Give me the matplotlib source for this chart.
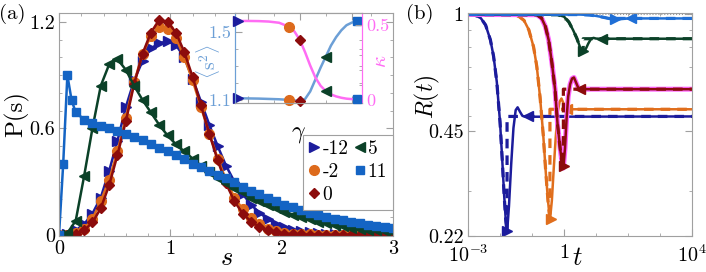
import numpy as np
import matplotlib
matplotlib.use("Agg")
import matplotlib.pyplot as plt
from matplotlib.lines import Line2D
from matplotlib.ticker import FixedLocator, FixedFormatter, NullFormatter

plt.rcParams['font.family'] = ['cmr10', 'DejaVu Serif']
plt.rcParams['mathtext.fontset'] = 'cm'
plt.rcParams['axes.unicode_minus'] = False
plt.rcParams['axes.formatter.use_mathtext'] = True

# ---------------- data: panel (a) ----------------
gammas = ['-12', '-2', '0', '5', '11']
colors = ['#1c1c9c', '#dd6a1c', '#8c0c0c', '#0b4128', '#1464c4']
markers = ['>', 'o', 'D', '<', 's']
msizes = [7, 7, 5.5, 7, 5.5]

s_grid = np.linspace(0, 3, 41)
P_m12 = [0, .005, .025, .06, .12, .21, .36, .53, .72, .87, .98, 1.05, 1.08, 1.09, 1.07, 1.0,
         .88, .75, .62, .50, .39, .30, .23, .17, .125, .09, .062, .043, .03, .02, .014, .01,
         .007, .005, .004, .003, .002, .002, .001, .001, .001]
P_m2 = [0, .002, .01, .035, .09, .19, .31, .47, .66, .86, 1.02, 1.12, 1.17, 1.16, 1.11, 1.0,
        .87, .72, .57, .43, .31, .21, .145, .095, .06, .035, .022, .013, .008, .005, .003,
        .002, .002, .001, .001, .001, .001, .001, .001, .001, .001]
P_0 = [0, .001, .006, .025, .07, .15, .28, .45, .64, .85, 1.02, 1.14, 1.21, 1.2, 1.14, 1.03,
       .89, .73, .57, .42, .29, .19, .12, .075, .045, .025, .014, .008, .005, .003, .002,
       .002, .001, .001, .001, .001, .001, .001, .001, .001, .001]
P_5 = [0, .01, .08, .33, .6, .84, .96, .99, .93, .84, .76, .69, .62, .56, .51, .47, .43, .39,
       .355, .32, .29, .265, .24, .21, .19, .17, .15, .13, .115, .1, .087, .075, .065, .056,
       .048, .041, .035, .03, .026, .022, .019]
s_11 = np.concatenate([[0, 0.0375, 0.075, 0.1125, 0.15], s_grid[3:]])
P_11 = [0, .40, .90, .76, .69, .65, .63, .615, .60, .585, .57, .55, .535, .51, .49, .47, .45,
        .425, .40, .38, .36, .34, .32, .30, .27, .25, .23, .21, .19, .17, .155, .14, .125,
        .112, .10, .09, .082, .074, .066, .058, .052, .046, .041]

# inset: <s^2> and kappa vs gamma
gam_line = [-12, -10, -8, -6, -4, -2, -1, 0, 1, 2, 3, 4, 5, 6, 7, 8, 9, 10, 11]
s2_line = [1.11, 1.109, 1.108, 1.106, 1.104, 1.10, 1.097, 1.094, 1.105, 1.15, 1.22, 1.29,
           1.355, 1.42, 1.47, 1.51, 1.54, 1.555, 1.565]
kap_line = [0.527, 0.527, 0.526, 0.523, 0.515, 0.487, 0.455, 0.40, 0.32, 0.23, 0.15, 0.095,
            0.06, 0.038, 0.024, 0.015, 0.009, 0.006, 0.004]
gam_pts = [-12, -2, 0, 5, 11]
s2_pts = [1.11, 1.10, 1.094, 1.355, 1.565]
kap_pts = [0.527, 0.487, 0.40, 0.06, 0.004]

# ---------------- data: panel (b) ----------------
# log10(t) and R(t)
lt_m12 = [-3, -2.8, -2.6, -2.45, -2.3, -2.2, -2.1, -2.0, -1.93, -1.87, -1.82, -1.78, -1.72,
          -1.65, -1.58, -1.51, -1.45, -1.38, -1.3, -1.2, 4]
R_m12 = [1.0, .997, .975, .93, .84, .75, .63, .48, .37, .29, .245, .225, .27, .36, .46, .52,
         .53, .515, .50, .497, .498]
lt_m2 = [-3, -1.6, -1.4, -1.25, -1.1, -0.95, -0.85, -0.75, -0.65, -0.57, -0.5, -0.44, -0.38,
         -0.32, -0.26, -0.2, -0.14, -0.08, 0.0, 0.1, 0.2, 4]
R_m2 = [1.0, .998, .985, .96, .9, .8, .7, .57, .44, .34, .28, .245, .28, .35, .43, .51, .55,
        .563, .54, .525, .523, .523]
lt_0 = [-3, -0.85, -0.7, -0.58, -0.48, -0.38, -0.28, -0.2, -0.12, -0.06, -0.02, 0.03, 0.08,
        0.13, 0.19, 0.25, 0.31, 0.37, 0.44, 0.52, 4]
R_0 = [1.0, .998, .975, .92, .84, .72, .6, .47, .4, .36, .35, .4, .49, .57, .62, .645, .65,
       .63, .607, .6, .6]
lt_5 = [-3, -0.2, 0.0, 0.15, 0.28, 0.4, 0.5, 0.6, 0.68, 0.76, 0.84, 0.92, 1.0, 1.1, 4]
R_5 = [1.0, .998, .985, .95, .9, .85, .8, .775, .79, .82, .845, .852, .848, .847, .847]
lt_11 = [-3, 0.5, 0.8, 1.0, 1.2, 1.4, 1.55, 1.65, 1.8, 1.95, 2.1, 4]
R_11 = [1.0, .999, .996, .99, .982, .973, .967, .966, .969, .972, .973, .973]

lt_min = [-1.78, -0.42, 0.0, 0.6, 1.6]
R_min = [0.228, 0.247, 0.355, 0.777, 0.966]
lt_inf = [-1.12, 0.08, 0.5, 1.2, 2.1]
R_inf = [0.498, 0.523, 0.6, 0.847, 0.973]

colors_b = ['#1c1c9c', '#e06e1c', '#8c0c0c', '#0b4128', '#1f6fd6']

# ---------------- figure ----------------
fig = plt.figure(figsize=(7.06, 2.72), dpi=100)
ax = fig.add_axes([0.0836, 0.1324, 0.4731, 0.8199])
axb = fig.add_axes([0.6629, 0.1324, 0.3173, 0.8199])
axi = fig.add_axes([0.3329, 0.6213, 0.1799, 0.3309])

frame = '#a0a0a0'


def style(a, fs=14.5):
    for sp in a.spines.values():
        sp.set_color(frame)
        sp.set_linewidth(0.8)
    a.tick_params(which='both', direction='in', colors=frame, labelcolor='black',
                  top=True, right=True, labelsize=fs, pad=3)
    a.tick_params(which='major', length=5, width=0.8)
    a.tick_params(which='minor', length=2.5, width=0.6)


# panel (a)
series = [(s_grid, P_m12), (s_grid, P_m2), (s_grid, P_0), (s_grid, P_5), (s_11, P_11)]
for (xs, ys), c, m, ms in zip(series, colors, markers, msizes):
    ax.plot(xs, ys, color=c, lw=1.8, marker=m, ms=ms, mec=c, mfc=c)
ax.set_xlim(0, 3)
ax.set_ylim(-0.006, 1.25)
style(ax)
ax.xaxis.set_major_locator(FixedLocator([0, 1, 2, 3]))
ax.xaxis.set_major_formatter(FixedFormatter(['0', '1', '2', '3']))
ax.xaxis.set_minor_locator(FixedLocator(np.arange(0, 3.01, 0.2)))
ax.yaxis.set_major_locator(FixedLocator([0, 0.6, 1.2]))
ax.yaxis.set_major_formatter(FixedFormatter(['0', '0.6', '1.2']))
ax.yaxis.set_minor_locator(FixedLocator(np.arange(0, 1.25, 0.1)))
ax.text(-0.126, 0.545, 'P(s)', transform=ax.transAxes, rotation=90,
        ha='center', va='center', fontsize=18)
ax.text(0.5, -0.1, r'$s$', transform=ax.transAxes, ha='center', va='center', fontsize=19)

handles = [Line2D([], [], color=c, marker=m, ls='none', ms=ms)
           for c, m, ms in zip(colors, markers, msizes)]
leg = ax.legend(handles, gammas, loc='upper right', bbox_to_anchor=(1.0, 0.455),
                ncol=2, fontsize=14, frameon=True, fancybox=False, framealpha=1,
                edgecolor=frame, handlelength=0.6, handletextpad=0.1,
                columnspacing=0.3, labelspacing=0.25, borderpad=0.3, borderaxespad=0)
leg.get_frame().set_linewidth(0.8)

# inset
c_s2 = '#6c9fd6'
c_k = '#ff6cf4'
axi.set_facecolor('white')
axi.plot(gam_line, s2_line, color=c_s2, lw=1.8)
axk = axi.twinx()
axk.plot(gam_line, kap_line, color=c_k, lw=1.8)
for g, v1, v2, c, m, ms in zip(gam_pts, s2_pts, kap_pts, colors, markers, msizes):
    axi.plot([g], [v1], marker=m, color=c, ms=ms, ls='none', clip_on=False, zorder=5)
    axk.plot([g], [v2], marker=m, color=c, ms=ms, ls='none', clip_on=False, zorder=5)
axi.set_xlim(-12.5, 12)
axi.set_ylim(1.082, 1.612)
axk.set_ylim(-0.02, 0.58)
for a in (axi, axk):
    style(a, fs=13)
    a.tick_params(right=False, top=True)
axi.tick_params(axis='y', labelcolor=c_s2, right=False)
axk.tick_params(axis='y', labelcolor=c_k, left=False, right=True, labelright=True)
axi.spines['left'].set_color(c_s2)
axk.spines['left'].set_color(c_s2)
axk.spines['right'].set_color(c_k)
axi.spines['right'].set_color(c_k)
axi.xaxis.set_major_locator(FixedLocator([-10, 0, 10]))
axi.xaxis.set_major_formatter(FixedFormatter(['-10', '0', '10']))
axi.xaxis.set_minor_locator(FixedLocator([-5, 5]))
axi.yaxis.set_major_locator(FixedLocator([1.1, 1.5]))
axi.yaxis.set_major_formatter(FixedFormatter(['1.1', '1.5']))
axi.yaxis.set_minor_locator(FixedLocator([1.2, 1.3, 1.4]))
axk.yaxis.set_major_locator(FixedLocator([0, 0.5]))
axk.yaxis.set_major_formatter(FixedFormatter(['0', '0.5']))
axk.yaxis.set_minor_locator(FixedLocator([0.1, 0.2, 0.3, 0.4]))
axk.xaxis.set_major_formatter(NullFormatter())
axi.text(0.496, -0.34, r'$\gamma$', transform=axi.transAxes, ha='center', va='center',
         fontsize=17)
axi.text(-0.215, 0.46, r'$\langle \mathrm{s}^2\rangle$', transform=axi.transAxes,
         rotation=90, ha='center', va='center', fontsize=14, color=c_s2)
axi.text(1.15, 0.46, r'$\kappa$', transform=axi.transAxes, rotation=90,
         ha='center', va='center', fontsize=15, color=c_k)

# panel (b)
curves_b = [(lt_m12, R_m12), (lt_m2, R_m2), (lt_0, R_0), (lt_5, R_5), (lt_11, R_11)]
axb.plot(10.0 ** np.array([1.0, 4.0]), [1.0, 1.0], color='#999999', lw=0.8, ls=':')
for i, ((lt, R), c) in enumerate(zip(curves_b, colors_b)):
    t = 10.0 ** np.array(lt)
    if i == 2:
        axb.plot(t, R, color='#ff66ff', lw=3.6, solid_capstyle='butt')
    axb.plot(t, R, color=c, lw=1.8)
    # dashed: follows the decay, then jumps straight to the final value
    k = lt.index(min(lt, key=lambda v: abs(v - lt_min[i])))
    td = list(t[:k + 1]) + [t[k], 1e4]
    Rd = list(R[:k + 1]) + [R_inf[i], R_inf[i]]
    axb.plot(td, Rd, color=c, lw=2.3, ls=(0, (3, 2.2)))
    axb.plot([10 ** lt_min[i]], [R_min[i]], marker='>', color=c, ms=7.5, ls='none')
    axb.plot([10 ** lt_inf[i]], [R_inf[i]], marker='<', color=c, ms=7.5, ls='none')
axb.set_xscale('log')
axb.set_yscale('log')
axb.set_xlim(1e-3, 1e4)
axb.set_ylim(0.22, 1.01)
style(axb)
axb.tick_params(axis='x', which='both', pad=6)
axb.xaxis.set_major_locator(FixedLocator([1e-3, 1, 1e4]))
axb.xaxis.set_major_formatter(FixedFormatter([r'$10^{-3}$', '1', r'$10^{4}$']))
axb.xaxis.set_minor_locator(FixedLocator([1e-2, 1e-1, 10, 100, 1000]))
axb.xaxis.set_minor_formatter(NullFormatter())
axb.yaxis.set_major_locator(FixedLocator([0.22, 0.45, 1]))
axb.yaxis.set_major_formatter(FixedFormatter(['0.22', '0.45', '1']))
axb.yaxis.set_minor_locator(FixedLocator([0.3, 0.5, 0.6, 0.7, 0.8, 0.9]))
axb.yaxis.set_minor_formatter(NullFormatter())
axb.text(-0.179, 0.623, r'$R(t)$', transform=axb.transAxes, rotation=90,
         ha='center', va='center', fontsize=17)
axb.text(0.487, -0.1, r'$t$', transform=axb.transAxes, ha='center', va='center',
         fontsize=19)

fig.text(0.017, 0.949, '(a)', ha='center', va='center', fontsize=15)
fig.text(0.595, 0.949, '(b)', ha='center', va='center', fontsize=15)

fig.savefig('out.png', dpi=100)
